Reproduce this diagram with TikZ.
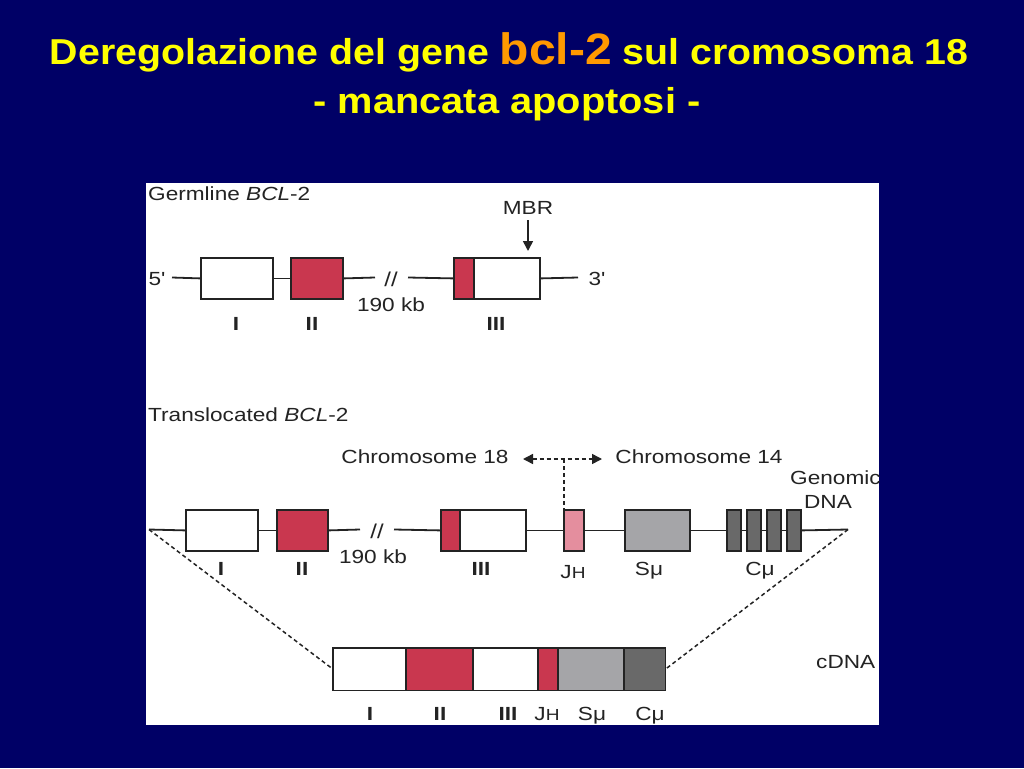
\documentclass[tikz,border=0pt]{standalone}
\usepackage{fontspec}
\usepackage{graphicx}
\setmainfont{Liberation Sans}
\newfontfamily\pf[FakeStretch=1.19]{Liberation Sans}
\usetikzlibrary{arrows.meta}
\definecolor{navy}{RGB}{0,0,102}
\definecolor{ttl}{RGB}{255,255,0}
\definecolor{org}{RGB}{255,153,0}
\definecolor{ink}{RGB}{35,35,35}
\definecolor{bred}{RGB}{201,55,79}
\definecolor{bpink}{RGB}{228,142,158}
\definecolor{sgray}{RGB}{165,165,168}
\definecolor{cgray}{RGB}{105,105,105}
\tikzset{
  lbl/.style={text=ink,font=\pf\fontsize{19}{21}\selectfont,inner sep=0pt,anchor=base},
  lbll/.style={lbl,anchor=base west},
  rom/.style={lbl,font=\pf\bfseries\fontsize{19}{21}\selectfont},
  ex/.style={draw=ink,line width=1.8pt,inner sep=0pt,anchor=north west,minimum height=41pt},
  dna/.style={draw=ink,line width=1.8pt},
  dsh/.style={draw=ink,line width=1.5pt,dash pattern=on 4pt off 3pt},
  mytip/.tip={Triangle[length=10pt,width=10pt]},
}
\begin{document}
\begin{tikzpicture}[x=1pt,y=-1pt]
\useasboundingbox (0,0) rectangle (1024,768);
\fill[navy] (0,0) rectangle (1024,768);
% title
\node[anchor=base,inner sep=0pt,text=ttl,font=\bfseries\fontsize{36}{40}\selectfont] (t1) at (509,64)
  {\resizebox{918pt}{\height}{Deregolazione del gene {\color{org}\fontsize{44}{44}\selectfont bcl-2} sul cromosoma 18}};
\node[anchor=base,inner sep=0pt,text=ttl,font=\bfseries\fontsize{36}{40}\selectfont] (t2) at (507,113)
  {\resizebox{387pt}{\height}{- mancata apoptosi -}};
% panel
\fill[white] (146,183) rectangle (879,725);
\begin{scope}
\clip (146,183) rectangle (879,725);
% ---------- Germline
\node[lbll] (gtitle) at (148,200) {Germline \textit{BCL}-2};
\node[lbl] (mbr) at (528,214) {MBR};
\node[lbl] (g5) at (157,285) {5'};
\node[lbl] (g3) at (597,285) {3'};
\node[ex,minimum width=72pt] (gI) at (200,257) {};
\node[ex,minimum width=52pt,fill=bred] (gII) at (290,257) {};
\node[ex,minimum width=86pt] (gIII) at (453,257) {};
\fill[bred] ([xshift=1.8pt,yshift=-1.8pt]gIII.north west) rectangle ([xshift=21pt,yshift=1.8pt]gIII.south west);
\draw[dna] ([xshift=21pt,yshift=-1pt]gIII.north west) -- ([xshift=21pt,yshift=1pt]gIII.south west);
\coordinate (gb1) at (375,277.5);
\coordinate (gb2) at (408,277.5);
\node[lbl,font=\pf\fontsize{20}{20}\selectfont] (gsl) at (391,286) {//};
\coordinate (g5e) at (172,277.5);
\coordinate (g3e) at (578,277.5);
\draw[dna] (g5e) -- (gI.west);
\draw[dna] (gI.east) -- (gII.west);
\draw[dna] (gII.east) -- (gb1);
\draw[dna] (gb2) -- (gIII.west);
\draw[dna] (gIII.east) -- (g3e);
\coordinate (m1) at (528,220);
\draw[ink,line width=1.6pt,-{mytip}] (m1) -- ([yshift=6pt]m1 |- gIII.north);
\node[lbl] (g190) at (391,311) {190 kb};
\node[rom] (gl1) at (236,330) {I};
\node[rom] (gl2) at (312,330) {II};
\node[rom] (gl3) at (496,330) {III};
% ---------- Translocated
\node[lbll] (ttitle) at (148,421) {Translocated \textit{BCL}-2};
\node[lbl] (c18) at (425,463) {Chromosome 18};
\node[lbl] (c14) at (699,463) {Chromosome 14};
\node[lbll] (gen) at (790,484) {Genomic};
\node[lbl] (gdna) at (828,508) {DNA};
\coordinate (tl) at (149,529.5);
\coordinate (tr) at (848,529.5);
\node[ex,minimum width=72pt] (tI) at (185,509) {};
\node[ex,minimum width=51pt,fill=bred] (tII) at (276,509) {};
\node[ex,minimum width=85pt] (tIII) at (440,509) {};
\fill[bred] ([xshift=1.8pt,yshift=-1.8pt]tIII.north west) rectangle ([xshift=20pt,yshift=1.8pt]tIII.south west);
\draw[dna] ([xshift=20pt,yshift=-1pt]tIII.north west) -- ([xshift=20pt,yshift=1pt]tIII.south west);
\node[ex,minimum width=20pt,fill=bpink] (jh) at (563,509) {};
\node[ex,minimum width=65pt,fill=sgray] (su) at (624,509) {};
\node[ex,minimum width=14pt,fill=cgray] (cu1) at (726,509) {};
\node[ex,minimum width=14pt,fill=cgray] (cu2) at (746,509) {};
\node[ex,minimum width=14pt,fill=cgray] (cu3) at (766,509) {};
\node[ex,minimum width=14pt,fill=cgray] (cu4) at (786,509) {};
\coordinate (tb1) at (360,529.5);
\coordinate (tb2) at (394,529.5);
\node[lbl,font=\pf\fontsize{20}{20}\selectfont] (tsl) at (377,538) {//};
\draw[dna] (tl) -- (tI.west);
\draw[dna] (tI.east) -- (tII.west);
\draw[dna] (tII.east) -- (tb1);
\draw[dna] (tb2) -- (tIII.west);
\draw[dna] (tIII.east) -- (jh.west);
\draw[dna] (jh.east) -- (su.west);
\draw[dna] (su.east) -- (cu1.west);
\draw[dna] (cu1.east) -- (cu2.west);
\draw[dna] (cu2.east) -- (cu3.west);
\draw[dna] (cu3.east) -- (cu4.west);
\draw[dna] (cu4.east) -- (tr);
% chromosome arrows
\coordinate (ca) at (564,459);
\coordinate (cal) at (523,459);
\coordinate (car) at (602,459);
\draw[dsh,{mytip}-{mytip}] (cal) -- (car);
\draw[dsh] (ca) -- ([xshift=1pt]jh.north west);
\node[lbl] (tl190) at (373,563) {190 kb};
\node[rom] (tl1) at (221,575) {I};
\node[rom] (tl2) at (302,575) {II};
\node[rom] (tl3) at (481,575) {III};
\node[lbl] (tljh) at (573,578) {J{\fontsize{16}{16}\selectfont H}};
\node[lbl] (tlsu) at (649,575) {Sμ};
\node[lbl] (tlcu) at (760,575) {Cμ};
% ---------- cDNA
\begin{scope}[every node/.style={inner sep=0pt,anchor=north west,minimum height=42pt}]
\node[fill=white,minimum width=73pt] (cI) at (333,648) {};
\node[fill=bred,minimum width=67pt] (cII) at (406,648) {};
\node[fill=white,minimum width=65pt] (cIII) at (473,648) {};
\node[fill=bred,minimum width=20pt] (cJ) at (538,648) {};
\node[fill=sgray,minimum width=66pt] (cS) at (558,648) {};
\node[fill=cgray,minimum width=41pt] (cC) at (624,648) {};
\end{scope}
\draw[dna] (cI.north west) rectangle (cC.south east);
\foreach \n in {cII,cIII,cJ,cS,cC} \draw[dna] (\n.north west) -- (\n.south west);
\draw[dsh] (tl) -- (cI.west);
\draw[dsh] (tr) -- (cC.east);
\node[lbll] (cd) at (816,668) {cDNA};
\node[rom] (cl1) at (370,720) {I};
\node[rom] (cl2) at (440,720) {II};
\node[rom] (cl3) at (508,720) {III};
\node[lbl] (cljh) at (547,720) {J{\fontsize{16}{16}\selectfont H}};
\node[lbl] (clsu) at (592,720) {Sμ};
\node[lbl] (clcu) at (650,720) {Cμ};
\end{scope}
\end{tikzpicture}
\end{document}
